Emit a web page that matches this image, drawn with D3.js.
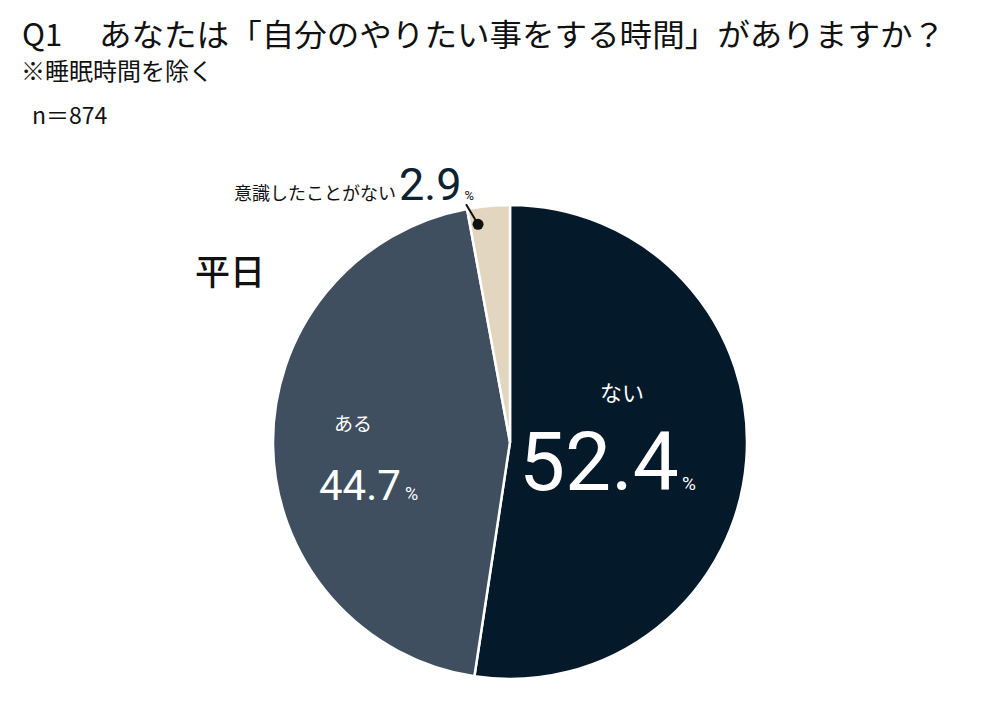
<!DOCTYPE html>
<html>
<head>
<meta charset="utf-8">
<script src="https://cdn.jsdelivr.net/npm/d3@7"></script>
<style>
  body { margin: 0; background: #fff; }
  text { font-family: "Noto Sans CJK JP", "Noto Sans", sans-serif; }
  .num { font-family: Roboto, "Noto Sans", sans-serif; }
</style>
</head>
<body>
<svg id="chart" width="993" height="706"></svg>
<script>
var labels = ['ない', 'ある', '意識したことがない'];
var values = [52.4, 44.7, 2.9];
var colors = ['#041a2a', '#3f4f60', '#e2d6c1'];

var svg = d3.select('svg#chart');

// titles
svg.append('text').attr('x', 22).attr('y', 46)
  .attr('font-size', 31).attr('fill', '#111')
  .text('Q1');
svg.append('text').attr('x', 99).attr('y', 46)
  .attr('font-size', 31).attr('fill', '#111')
  .attr('textLength', 846).attr('lengthAdjust', 'spacingAndGlyphs')
  .text('あなたは「自分のやりたい事をする時間」がありますか？');
svg.append('text').attr('x', 21).attr('y', 80)
  .attr('font-size', 24).attr('fill', '#111')
  .text('※睡眠時間を除く');
svg.append('text').attr('x', 32).attr('y', 124)
  .attr('font-size', 23).attr('fill', '#111')
  .text('n＝874');
svg.append('text').attr('x', 195).attr('y', 285)
  .attr('font-size', 35).attr('font-weight', 500).attr('fill', '#111')
  .text('平日');

var cx = 510, cy = 442, r = 237;

var pie = d3.pie().sort(null).value(function(d) { return d; });
var arcs = pie(values);
var arc = d3.arc().innerRadius(0).outerRadius(r);

var g = svg.append('g').attr('transform', 'translate(' + cx + ',' + cy + ')');

g.selectAll('path')
  .data(arcs)
  .join('path')
  .attr('d', arc)
  .attr('fill', function(d, i) { return colors[i]; })
  .attr('stroke', '#fff')
  .attr('stroke-width', 2.5)
  .attr('stroke-linejoin', 'round');

// big label: ない
g.append('text').attr('x', 112).attr('y', -41).attr('text-anchor', 'middle')
  .attr('font-size', 22).attr('fill', '#fff').text(labels[0]);
var n0 = g.append('text').attr('x', 9).attr('y', 48).attr('fill', '#fff');
n0.append('tspan').attr('class', 'num').attr('font-size', 82).text(values[0].toFixed(1));
n0.append('tspan').attr('class', 'num').attr('font-size', 19).attr('dx', 3).text('%');

// ある
g.append('text').attr('x', -157).attr('y', -11).attr('text-anchor', 'middle')
  .attr('font-size', 19).attr('fill', '#fff').text(labels[1]);
var n1 = g.append('text').attr('x', -191).attr('y', 58).attr('fill', '#fff');
n1.append('tspan').attr('class', 'num').attr('font-size', 42).text(values[1].toFixed(1));
n1.append('tspan').attr('class', 'num').attr('font-size', 18).attr('dx', 4).text('%');

// small slice label with leader
var a = arcs[2].startAngle + 0.2 * (arcs[2].endAngle - arcs[2].startAngle);
var px = Math.sin(a) * 220, py = -Math.cos(a) * 220;
g.append('line').attr('x1', px).attr('y1', py).attr('x2', px - 12).attr('y2', py - 20)
  .attr('stroke', '#111').attr('stroke-width', 2);
g.append('circle').attr('cx', px).attr('cy', py).attr('r', 5.5).attr('fill', '#111');
var n2 = g.append('text').attr('x', -276).attr('y', -242).attr('fill', '#111');
n2.append('tspan').attr('font-size', 18).text(labels[2]);
n2.append('tspan').attr('class', 'num').attr('font-size', 45).attr('fill', '#0b2233').attr('dx', 3)
  .text(values[2].toFixed(1));
n2.append('tspan').attr('class', 'num').attr('font-size', 13).attr('dx', 3).text('%');
</script>
</body>
</html>
